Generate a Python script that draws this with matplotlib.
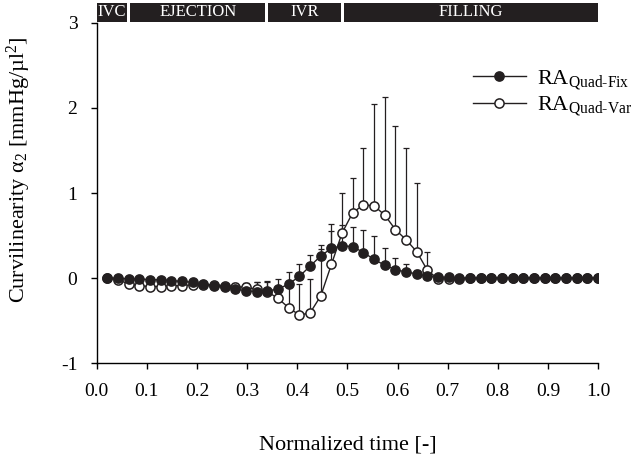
import numpy as np
import matplotlib
matplotlib.use("Agg")
import matplotlib.pyplot as plt

# =====================
# DATA
# =====================
n_pts = 47
t = np.arange(1, n_pts + 1) / n_pts   # normalized time

fix_mean = [0.0, 0.0, -0.01, -0.01, -0.02, -0.02, -0.03, -0.04, -0.05, -0.07,
            -0.09, -0.11, -0.13, -0.15, -0.16, -0.15, -0.13, -0.07, 0.02, 0.14,
            0.26, 0.35, 0.38, 0.37, 0.30, 0.22, 0.15, 0.10, 0.07, 0.05,
            0.02, 0.01, 0.01, 0.0, 0.0, 0.0, 0.0, 0.0, 0.0, 0.0,
            0.0, 0.0, 0.0, 0.0, 0.0, 0.0, 0.0]
fix_err = [0.0, 0.0, 0.0, 0.0, 0.0, 0.0, 0.0, 0.0, 0.0, 0.02,
           0.03, 0.05, 0.07, 0.09, 0.11, 0.11, 0.12, 0.14, 0.14, 0.13,
           0.13, 0.20, 0.24, 0.23, 0.27, 0.27, 0.20, 0.14, 0.09, 0.05,
           0.03, 0.0, 0.0, 0.0, 0.0, 0.0, 0.0, 0.0, 0.0, 0.0,
           0.0, 0.0, 0.0, 0.0, 0.0, 0.0, 0.0]

var_mean = [0.0, -0.02, -0.07, -0.09, -0.10, -0.10, -0.09, -0.09, -0.08, -0.08,
            -0.08, -0.09, -0.10, -0.11, -0.13, -0.16, -0.24, -0.35, -0.435, -0.41,
            -0.21, 0.16, 0.53, 0.77, 0.86, 0.85, 0.74, 0.57, 0.45, 0.31,
            0.09, -0.01, -0.01, -0.01, 0.0, 0.0, 0.0, 0.0, 0.0, 0.0,
            0.0, 0.0, 0.0, 0.0, 0.0, 0.0, 0.0]
var_err = [0.0, 0.0, 0.0, 0.0, 0.0, 0.0, 0.0, 0.0, 0.0, 0.0,
           0.0, 0.0, 0.03, 0.05, 0.08, 0.11, 0.15, 0.25, 0.36, 0.40,
           0.55, 0.47, 0.47, 0.41, 0.67, 1.20, 1.39, 1.22, 1.08, 0.81,
           0.22, 0.0, 0.0, 0.0, 0.0, 0.0, 0.0, 0.0, 0.0, 0.0,
           0.0, 0.0, 0.0, 0.0, 0.0, 0.0, 0.0]

phase_names = ["IVC", "EJECTION", "IVR", "FILLING"]
phase_edges = [0.0, 0.064, 0.339, 0.491, 1.0]

x_ticks = np.round(np.arange(0, 1.01, 0.1), 1)
y_ticks = [-1, 0, 1, 2, 3]

# =====================
# STYLE
# =====================
plt.rcParams.update({
    "font.family": ["Liberation Serif", "DejaVu Serif"],
    "mathtext.fontset": "custom",
    "mathtext.rm": "Liberation Serif",
    "mathtext.it": "Liberation Serif:italic",
    "mathtext.bf": "Liberation Serif:bold",
    "axes.unicode_minus": False,
    "font.size": 14,
})

fig = plt.figure(figsize=(6.41, 4.59), dpi=100)
ax = fig.add_axes([0.151, 0.209, 0.782, 0.741])

# error bars (upper only)
zeros = np.zeros(n_pts)
ax.errorbar(t, var_mean, yerr=[zeros, var_err], fmt="none", ecolor="#231f20",
            elinewidth=0.9, capsize=2.5, capthick=0.9, zorder=2)
ax.errorbar(t, fix_mean, yerr=[zeros, fix_err], fmt="none", ecolor="#231f20",
            elinewidth=0.9, capsize=2.5, capthick=0.9, zorder=2)

ax.plot(t, var_mean, "-o", color="#231f20", lw=1.0, ms=6.6, mfc="white",
        mec="#231f20", mew=1.1, zorder=3, label=r"RA$_{\mathrm{Quad\text{-}Var}}$")
ax.plot(t, fix_mean, "-o", color="#231f20", lw=1.0, ms=6.6, mfc="#231f20",
        mec="#231f20", mew=1.1, zorder=4, label=r"RA$_{\mathrm{Quad\text{-}Fix}}$")

ax.set_xlim(0, 1.0)
ax.set_ylim(-1, 3)
ax.set_xticks(x_ticks)
ax.set_xticklabels([f"{v:.1f}" for v in x_ticks])
ax.set_yticks(y_ticks)
ax.tick_params(direction="out", length=4, width=1, pad=10, labelsize=14)

for s in ["top", "right"]:
    ax.spines[s].set_visible(False)
for s in ["left", "bottom"]:
    ax.spines[s].set_linewidth(1.0)

ax.set_xlabel("Normalized time [-]", fontsize=16, labelpad=26)
ax.set_ylabel(r"Curvilinearity α$_2$ [mmHg/µl$^2$]", fontsize=16)
ax.yaxis.set_label_coords(-0.128, 0.57)

# phase bar on top
trans = ax.get_xaxis_transform()
gap = 0.003
for i, name in enumerate(phase_names):
    x0 = phase_edges[i] + (gap if i > 0 else 0)
    x1 = phase_edges[i + 1] - (gap if i < len(phase_names) - 1 else 0)
    ax.add_patch(plt.Rectangle((x0, 1.003), x1 - x0, 0.056, transform=trans,
                               facecolor="#231f20", edgecolor="none", clip_on=False))
    ax.text((x0 + x1) / 2, 1.031, name, transform=trans, color="white",
            ha="center", va="center", fontsize=12)

handles, labels = ax.get_legend_handles_labels()
ax.legend(handles[::-1], labels[::-1], loc="upper right", frameon=False,
          bbox_to_anchor=(1.068, 0.868), borderaxespad=0, borderpad=0,
          handlelength=2.4, handletextpad=0.5, fontsize=16, labelspacing=0.12)

fig.savefig("out.png", dpi=100)
